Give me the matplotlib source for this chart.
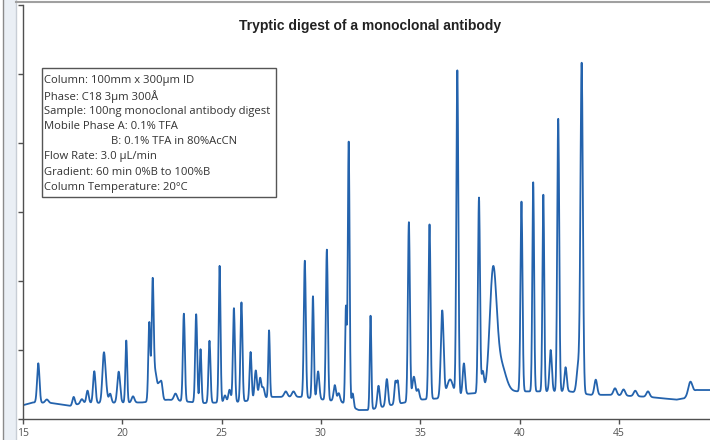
import numpy as np
import matplotlib.pyplot as plt
from matplotlib.lines import Line2D
from matplotlib.patches import Rectangle

# Peak table: retention time (min), height above baseline, width (sigma, min)
rt = [15.77, 16.2, 17.55, 17.96, 18.25, 18.59, 19.06, 19.15, 19.39, 19.82, 20.2, 20.54,
      21.36, 21.53, 21.67, 21.85, 21.97, 22.68, 23.1, 23.72, 23.94, 24.39, 24.9, 25.17,
      25.4, 25.62, 26.0, 26.46, 26.72, 26.94, 27.1, 27.39, 28.23, 28.62, 29.19, 29.6,
      29.86, 30.3, 30.7, 30.9, 31.26, 31.4, 31.6, 32.5, 32.9, 33.32, 33.75, 33.87,
      34.43, 34.68, 34.9, 35.47, 36.11, 36.5, 36.87, 37.2, 37.96, 38.15, 38.67, 39.05,
      40.1, 40.69, 41.2, 41.57, 41.95, 42.32, 42.96, 43.13, 43.84, 44.81, 45.24, 45.83,
      46.47, 48.6]
height = [5.7, 0.5, 1.2, 0.6, 1.8, 4.6, 5.8, 2.6, 1.3, 4.5, 9.0, 0.9,
          11.5, 17.0, 4.0, 2.0, 2.5, 1.0, 12.7, 12.8, 7.8, 9.0, 19.8, 1.0,
          1.8, 13.6, 14.4, 7.0, 4.2, 3.0, 1.5, 9.7, 0.8, 0.8, 19.8, 14.8,
          4.0, 21.8, 2.3, 1.2, 14.0, 38.2, 2.0, 13.6, 3.2, 3.9, 3.2, 3.2,
          26.0, 3.5, 1.5, 25.3, 12.6, 2.5, 47.0, 4.5, 28.3, 3.0, 17.0, 4.0,
          27.5, 30.3, 28.5, 6.0, 39.5, 3.5, 4.0, 47.5, 2.2, 1.0, 0.9, 0.8,
          0.8, 1.8]
sigma = [0.06, 0.08, 0.06, 0.07, 0.06, 0.06, 0.07, 0.08, 0.06, 0.07, 0.045, 0.07,
         0.05, 0.05, 0.08, 0.06, 0.06, 0.08, 0.05, 0.05, 0.045, 0.05, 0.045, 0.06,
         0.06, 0.05, 0.05, 0.05, 0.06, 0.06, 0.06, 0.04, 0.08, 0.08, 0.05, 0.045,
         0.06, 0.05, 0.06, 0.06, 0.04, 0.045, 0.05, 0.04, 0.06, 0.06, 0.05, 0.05,
         0.05, 0.08, 0.06, 0.05, 0.07, 0.15, 0.05, 0.06, 0.05, 0.06, 0.17, 0.25,
         0.05, 0.045, 0.045, 0.06, 0.05, 0.06, 0.08, 0.06, 0.07, 0.08, 0.08, 0.08,
         0.08, 0.1]

# baseline drift read at a few retention times
base_t = [15.0, 15.5, 16.5, 17.4, 18.0, 21.0, 22.3, 24.0, 26.0, 27.5, 29.0, 31.0, 31.9,
          32.4, 33.5, 35.0, 36.0, 37.5, 39.5, 42.5, 43.6, 44.5, 46.5, 47.9, 48.3, 48.9, 49.7]
base_y = [2.0, 2.4, 2.3, 1.9, 2.3, 2.4, 2.8, 2.3, 2.5, 3.2, 3.2, 2.5, 1.3,
          1.3, 2.0, 2.8, 3.0, 3.7, 4.0, 4.0, 3.5, 3.5, 3.2, 2.8, 3.0, 4.2, 4.2]

xticks = [15, 20, 25, 30, 35, 40, 45]
title = "Tryptic digest of a monoclonal antibody"
info_lines = ["Column: 100mm x 300\u00b5m ID",
              "Phase: C18 3\u00b5m 300\u00c5",
              "Sample: 100ng monoclonal antibody digest",
              "Mobile Phase A: 0.1% TFA",
              "B: 0.1% TFA in 80%AcCN",
              "Flow Rate: 3.0 \u00b5L/min",
              "Gradient: 60 min 0%B to 100%B",
              "Column Temperature: 20\u00b0C"]

# build the trace
t = np.arange(15.0, 49.75, 0.01)
signal = np.interp(t, base_t, base_y)
for r, h, s in zip(rt, height, sigma):
    signal += h * np.exp(-0.5 * ((t - r) / s) ** 2)

W, H = 710, 440
fig = plt.figure(figsize=(W / 100, H / 100), dpi=100)

# side panel strip + frame lines of the screenshot
fig.patches.append(Rectangle((3 / W, 0), 13 / W, 1, transform=fig.transFigure,
                             facecolor='#eaeff5', edgecolor='none', zorder=0))
fig.lines.append(Line2D([3 / W, 3 / W], [0, 1], transform=fig.transFigure, color='#8a8a8a', lw=1))
fig.lines.append(Line2D([16 / W, 16 / W], [0, 1], transform=fig.transFigure, color='#c8ced6', lw=1))
fig.lines.append(Line2D([16 / W, 1], [1 - 2 / H, 1 - 2 / H], transform=fig.transFigure, color='#a0a0a0', lw=1.5))

ax = fig.add_axes([23 / W, 21 / H, (712 - 23) / W, 414 / H])
ax.plot(t, signal, color='#2463ad', lw=1.3)

ax.set_xlim(15, 15 + (712 - 23) / 19.86)
ax.set_ylim(0, 60)
ax.set_xticks(xticks)
ax.set_yticks(np.arange(0, 61, 10))
ax.set_yticklabels([])
for side in ['top', 'right']:
    ax.spines[side].set_visible(False)
for side in ['left', 'bottom']:
    ax.spines[side].set_color('#505050')
    ax.spines[side].set_linewidth(1)
ax.tick_params(axis='both', direction='out', length=3.5, width=1, color='#505050')
ax.tick_params(axis='x', labelsize=7.5, labelcolor='#555555', pad=3)
for lab in ax.get_xticklabels():
    lab.set_family('Open Sans')

fig.text(370 / W, 1 - 26 / H, title, ha='center', va='center', fontsize=10,
         fontweight='bold', family='Liberation Sans', color='#222222')

# info box
fig.patches.append(Rectangle((42 / W, 1 - 197 / H), (276 - 42) / W, (197 - 68) / H,
                             transform=fig.transFigure, facecolor='white',
                             edgecolor='#555555', lw=1, zorder=3))
for i, line in enumerate(info_lines):
    x = 111 if line.startswith("B:") else 44
    fig.text(x / W, 1 - (81 + i * 15.2) / H, line, ha='left', va='center',
             fontsize=8.1, family='Open Sans', color='#333333', zorder=4)

fig.savefig('out.png', dpi=100)
